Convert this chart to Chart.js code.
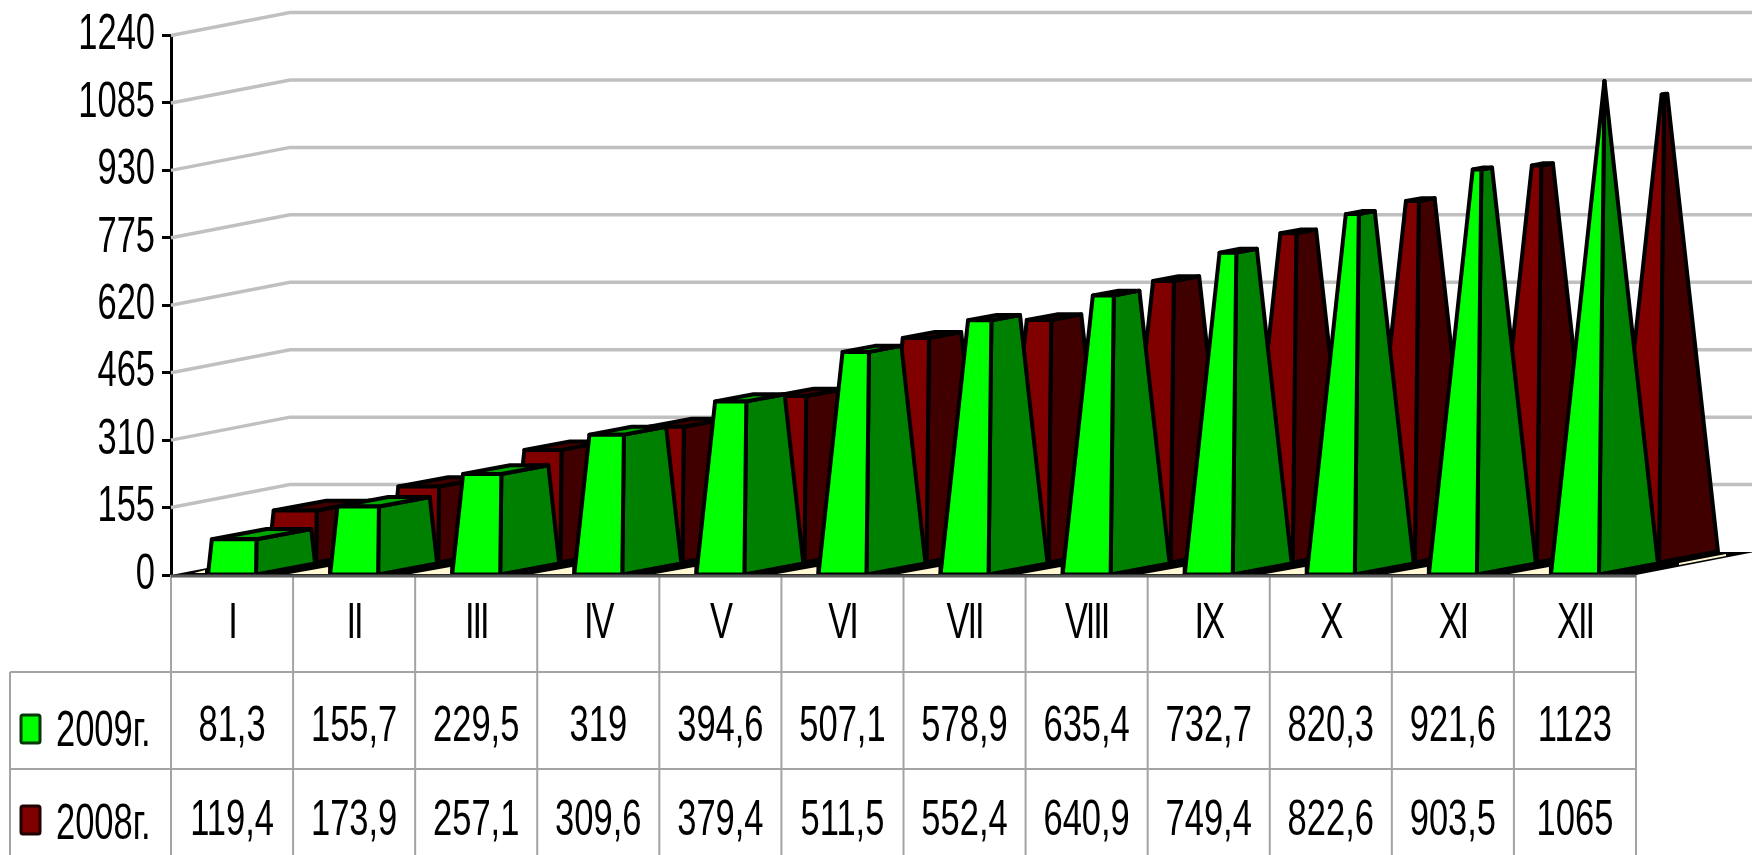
<!DOCTYPE html>
<html>
<head>
<meta charset="utf-8">
<style>html,body{margin:0;padding:0;background:#fff}canvas{display:block}</style>
<script src="https://cdn.jsdelivr.net/npm/chart.js@4/dist/chart.umd.js"></script>
</head>
<body>
<canvas id="c" width="1752" height="855"></canvas>
<script>
const categories = ['I','II','III','IV','V','VI','VII','VIII','IX','X','XI','XII'];
const values2009 = [81.3,155.7,229.5,319,394.6,507.1,578.9,635.4,732.7,820.3,921.6,1123];
const values2008 = [119.4,173.9,257.1,309.6,379.4,511.5,552.4,640.9,749.4,822.6,903.5,1065];
const seriesNames = ['2009г.','2008г.'];
const axisMax = 1240;
const axisStep = 155;

const FAMILY = '"Liberation Sans", Arial, sans-serif';
const SIZE = 50;
const FONT = SIZE + 'px ' + FAMILY;
const SQUEEZE = 0.69;
const WALL = {dx:119, dy:23};
const ROW = {dx:60, dy:12};
const BASE = {dx:59, dy:11};
const LOOK = [
  {front:'#00ff00', side:'#008000', top:'#00a800', key:'#00ff00', keyEdge:'#063806'},
  {front:'#800000', side:'#400000', top:'#400000', key:'#800000', keyEdge:'#200000'}
];
const TABLE_BOTTOM = 855, ROW_1 = 672, ROW_2 = 769, TABLE_LEFT = 10;
const CREAM = '#fff8d2';

function quad(ctx, pts, fill){
  ctx.beginPath();
  pts.forEach((p,i)=> i ? ctx.lineTo(p[0],p[1]) : ctx.moveTo(p[0],p[1]));
  ctx.closePath();
  ctx.fillStyle = fill;
  ctx.fill();
}

function outlined(ctx, pts, fill){
  quad(ctx, pts, fill);
  ctx.stroke();
}

function drawPyramid(ctx, el, row, look, fullHeight){
  const ox = row*ROW.dx, oy = -row*ROW.dy;
  const x0 = el.x - el.width/2 + ox, x1 = el.x + el.width/2 + ox, y0 = el.base + oy;
  const fl=[x0,y0], fr=[x1,y0], br=[x1+BASE.dx,y0-BASE.dy], bl=[x0+BASE.dx,y0-BASE.dy];
  const apex=[(x0+x1+BASE.dx)/2, y0-BASE.dy/2-fullHeight];
  const t = (el.base-el.y)/fullHeight;
  const cut = p => [p[0]+(apex[0]-p[0])*t, p[1]+(apex[1]-p[1])*t];
  ctx.save();
  ctx.strokeStyle='#000';
  ctx.lineWidth=4;
  ctx.lineJoin='round';
  outlined(ctx,[fr,br,cut(br),cut(fr)],look.side);
  outlined(ctx,[cut(fl),cut(fr),cut(br),cut(bl)],look.top);
  outlined(ctx,[fl,fr,cut(fr),cut(fl)],look.front);
  ctx.restore();
}

function squeezeLabels(scale, sx, spacing){
  const compute = scale._computeLabelItems.bind(scale);
  scale._computeLabelItems = area => {
    const items = compute(area);
    items.forEach(it => { const t = it.options.translation; it.options.translation = [t[0]/sx, t[1]]; });
    return items;
  };
  scale._computeLabelArea = () => undefined;
  const draw = scale.drawLabels.bind(scale);
  scale.drawLabels = area => {
    const c = scale.ctx;
    c.save();
    c.scale(sx,1);
    c.letterSpacing = spacing;
    draw(area);
    c.letterSpacing = '0px';
    c.restore();
  };
  scale._labelItems = null;
}

const scene = {
  id:'scene',
  afterLayout(chart){
    if (chart.$squeezed) return;
    chart.$squeezed = true;
    squeezeLabels(chart.scales.x, SQUEEZE, '-3px');
    squeezeLabels(chart.scales.y, SQUEEZE, '0px');
  },
  beforeDatasetsDraw(chart){
    const {ctx, scales:{y}, chartArea:a, width} = chart;
    ctx.save();
    const y0 = y.getPixelForValue(0);
    // wall grid lines
    ctx.strokeStyle='#c0c0c0'; ctx.lineWidth=3.5;
    y.ticks.forEach(t=>{
      if (!t.value) return;
      const py = y.getPixelForValue(t.value);
      ctx.beginPath();
      ctx.moveTo(a.left,py);
      ctx.lineTo(a.left+WALL.dx,py-WALL.dy);
      ctx.lineTo(width,py-WALL.dy);
      ctx.stroke();
    });
    // floor: dark, with pale slivers left open between the front bars
    quad(ctx,[[a.left,y0],[a.right,y0],[a.right+WALL.dx,y0-WALL.dy],[width,y0-WALL.dy],[a.left+WALL.dx,y0-WALL.dy]],'#000');
    const els = chart.getDatasetMeta(0).data;
    els.forEach((el,i)=>{
      const left = el.x-el.width/2;
      const right = el.x+el.width/2;
      if (i===0) quad(ctx,[[left-14,y0-2],[left-3,y0-2],[left-3,y0-5]],CREAM);
      if (i<els.length-1){
        const next = els[i+1].x-els[i+1].width/2;
        quad(ctx,[[right+33,y0-1],[next-2,y0-1],[next-2,y0-8]],CREAM);
      } else {
        quad(ctx,[[right+80,y0-10],[right+127,y0-19],[right+127,y0-21],[right+80,y0-12]],CREAM);
      }
    });
    ctx.restore();
  },
  beforeDatasetDraw(chart, args){
    const {ctx, scales:{y}} = chart;
    const top = Math.max(...values2009, ...values2008);
    const full = y.getPixelForValue(0)-y.getPixelForValue(top);
    args.meta.data.forEach(el => drawPyramid(ctx, el, args.index, LOOK[args.index], full));
    return false;
  },
  afterDraw(chart){
    const {ctx, scales:{x,y}, chartArea:a} = chart;
    const y0 = y.getPixelForValue(0);
    const edge = i => a.left + (a.right-a.left)*i/categories.length;
    ctx.save();
    // table lines
    ctx.strokeStyle='#a3a3a3'; ctx.lineWidth=2;
    ctx.beginPath();
    for (let i=0;i<=categories.length;i++){ ctx.moveTo(edge(i),y0); ctx.lineTo(edge(i),TABLE_BOTTOM); }
    ctx.moveTo(TABLE_LEFT,ROW_1); ctx.lineTo(TABLE_LEFT,TABLE_BOTTOM);
    ctx.moveTo(TABLE_LEFT,ROW_1); ctx.lineTo(a.right,ROW_1);
    ctx.moveTo(TABLE_LEFT,ROW_2); ctx.lineTo(a.right,ROW_2);
    ctx.stroke();
    ctx.strokeStyle='#5a5a5a'; ctx.lineWidth=3;
    ctx.beginPath(); ctx.moveTo(a.left,y0+1); ctx.lineTo(a.right,y0+1); ctx.stroke();
    // table cells
    const rows = [
      {vals:values2009, cy:727, key:729, name:732},
      {vals:values2008, cy:821, key:820, name:825}
    ];
    rows.forEach((row,r)=>{
      ctx.fillStyle=LOOK[r].key; ctx.strokeStyle=LOOK[r].keyEdge; ctx.lineWidth=3;
      ctx.beginPath(); ctx.roundRect(21,row.key-14,19,28,2); ctx.fill(); ctx.stroke();
      ctx.save();
      ctx.scale(SQUEEZE,1);
      ctx.font=FONT; ctx.fillStyle='#000'; ctx.textBaseline='middle'; ctx.textAlign='left';
      ctx.fillText(seriesNames[r],56/SQUEEZE,row.name);
      ctx.textAlign='center';
      row.vals.forEach((v,i)=>{
        ctx.fillText(String(v).replace('.',','), x.getPixelForValue(i)/SQUEEZE, row.cy);
      });
      ctx.restore();
    });
    ctx.restore();
  }
};

new Chart(document.getElementById('c'),{
  type:'bar',
  plugins:[scene],
  data:{
    labels:categories,
    datasets:[
      {label:seriesNames[0],data:values2009,backgroundColor:LOOK[0].front,borderColor:'#000'},
      {label:seriesNames[1],data:values2008,backgroundColor:LOOK[1].front,borderColor:'#000'}
    ]
  },
  options:{
    responsive:false,
    animation:false,
    events:[],
    layout:{padding:{top:35.5,right:116,left:0,bottom:0}},
    datasets:{bar:{grouped:false,categoryPercentage:1,barPercentage:48/122}},
    plugins:{legend:{display:false},tooltip:{enabled:false},title:{display:false}},
    scales:{
      x:{
        type:'category',
        grid:{display:false},
        border:{display:false},
        ticks:{color:'#000',font:{family:FAMILY,size:SIZE},padding:11,maxRotation:0,minRotation:0,autoSkip:false},
        afterFit(s){ s.height=280; s.paddingLeft=0; s.paddingRight=0; }
      },
      y:{
        type:'linear',
        min:0,max:axisMax,
        grid:{drawOnChartArea:false,drawTicks:true,tickLength:9,tickColor:'#000',tickWidth:3},
        border:{color:'#000',width:3},
        ticks:{stepSize:axisStep,color:'#000',padding:7,font:{family:FAMILY,size:SIZE},callback:v=>String(v)},
        afterFit(s){ s.width=171; s.paddingTop=0; s.paddingBottom=0; }
      }
    }
  }
});
</script>
</body>
</html>
